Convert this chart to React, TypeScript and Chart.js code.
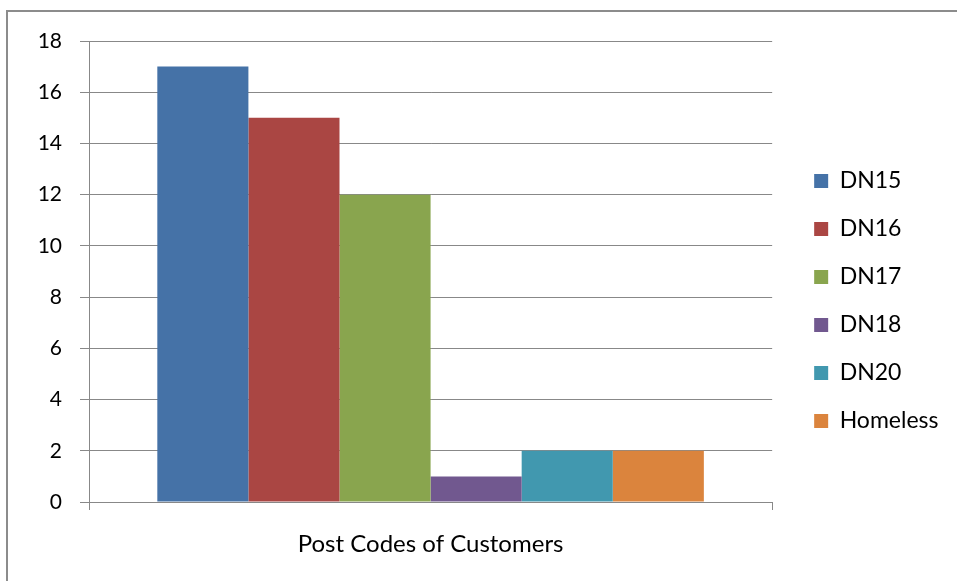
import React, { useEffect, useRef } from "react";
import { Chart, registerables } from "chart.js";

Chart.register(...registerables);

const categories = ["Post Codes of Customers"];
const seriesNames = ["DN15", "DN16", "DN17", "DN18", "DN20", "Homeless"];
const seriesValues = [17, 15, 12, 1, 2, 2];
const seriesColors = ["#4572A7", "#AA4643", "#89A54E", "#71588F", "#4198AF", "#DB843D"];
const yTicks = [0, 2, 4, 6, 8, 10, 12, 14, 16, 18];

const FONT = "Lato, 'Open Sans', sans-serif";
const GRID = "#888888";

export default function App() {
  const ref = useRef<HTMLCanvasElement | null>(null);

  useEffect(() => {
    if (!ref.current) return;
    const chart = new Chart(ref.current, {
      type: "bar",
      data: {
        labels: categories,
        datasets: seriesNames.map((name, i) => ({
          label: name,
          data: [seriesValues[i]],
          backgroundColor: seriesColors[i],
          borderWidth: 0,
          categoryPercentage: 0.8,
          barPercentage: 1.0,
        })),
      },
      options: {
        animation: false,
        responsive: false,
        maintainAspectRatio: false,
        layout: { padding: { left: 30, top: 41, right: 16, bottom: 20 } },
        plugins: {
          tooltip: { enabled: false },
          legend: {
            position: "right",
            fullSize: true,
            labels: {
              boxWidth: 14,
              boxHeight: 14,
              padding: 25,
              color: "#000",
              font: { family: FONT, size: 23 },
            },
          },
        },
        scales: {
          x: {
            offset: true,
            grid: {
              offset: true,
              drawOnChartArea: false,
              drawTicks: true,
              tickLength: 8,
              color: GRID,
            },
            border: { display: true, color: GRID, width: 1 },
            ticks: { color: "#000", font: { family: FONT, size: 24 }, padding: 20 },
            afterFit: (s: any) => {
              s.height = 59;
            },
          },
          y: {
            min: 0,
            max: 18,
            afterBuildTicks: (s: any) => {
              s.ticks = yTicks.map((v) => ({ value: v }));
            },
            grid: { color: GRID, tickLength: 9, lineWidth: 1 },
            border: { display: true, color: GRID, width: 1 },
            ticks: { color: "#000", font: { family: FONT, size: 21 }, padding: 18 },
            afterFit: (s: any) => {
              s.width = 59;
            },
          },
          yRight: {
            axis: "y",
            position: "right",
            min: 0,
            max: 18,
            grid: { display: false, drawTicks: false },
            border: { display: false },
            ticks: { display: false },
            afterFit: (s: any) => {
              s.width = 17;
            },
          },
        },
      },
    });
    return () => chart.destroy();
  }, []);

  return (
    <div
      style={{
        position: "fixed",
        left: 0,
        top: 0,
        width: 957,
        height: 581,
        overflow: "hidden",
        background: "#fff",
      }}
    >
      <div
        style={{
          position: "absolute",
          left: 6,
          top: 10,
          width: 1000,
          height: 1000,
          borderLeft: "2px solid #8c8c8c",
          borderTop: "2px solid #8c8c8c",
        }}
      />
      <canvas ref={ref} width={957} height={581} style={{ position: "absolute", left: 0, top: 0 }} />
    </div>
  );
}
